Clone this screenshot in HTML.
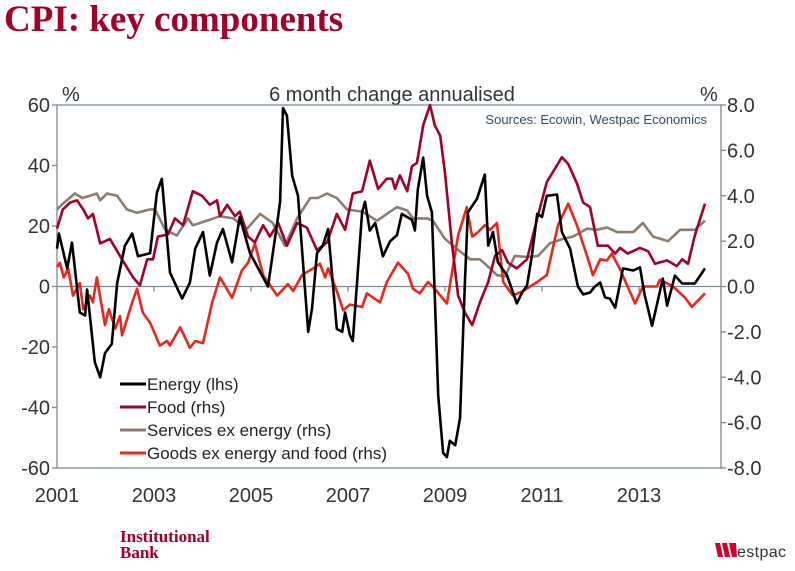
<!DOCTYPE html>
<html><head><meta charset="utf-8"><style>
html,body{margin:0;padding:0;background:#fff;width:795px;height:571px;overflow:hidden;font-family:"Liberation Sans",sans-serif}
svg{display:block}
</style></head><body>
<svg id="chart" width="795" height="571" viewBox="0 0 795 571">
<text x="4" y="31" font-family="Liberation Serif,serif" font-weight="bold" font-size="37" fill="#a0002a">CPI: key components</text>
<text x="62" y="101" font-size="20" fill="#333">%</text>
<text x="392" y="101" font-size="20" fill="#333" text-anchor="middle">6 month change annualised</text>
<text x="700" y="101" font-size="20" fill="#333">%</text>
<g id="axes"></g>
<g id="series"></g>
<text x="707" y="124" font-size="13" fill="#3a4a5a" text-anchor="end">Sources: Ecowin, Westpac Economics</text>
<g>
<line x1="120" y1="384" x2="146" y2="384" stroke="#000" stroke-width="3"/><text x="147" y="390" font-size="17" fill="#222">Energy (lhs)</text>
<line x1="120" y1="407" x2="146" y2="407" stroke="#a0002a" stroke-width="3"/><text x="147" y="413" font-size="17" fill="#222">Food (rhs)</text>
<line x1="120" y1="430" x2="146" y2="430" stroke="#8c7d70" stroke-width="3"/><text x="147" y="436" font-size="17" fill="#222">Services ex energy (rhs)</text>
<line x1="120" y1="453" x2="146" y2="453" stroke="#e8281e" stroke-width="3"/><text x="147" y="459" font-size="17" fill="#222">Goods ex energy and food (rhs)</text>
</g>
<text x="120" y="542" font-family="Liberation Serif,serif" font-weight="bold" font-size="17" fill="#a0002a">Institutional</text>
<text x="120" y="558" font-family="Liberation Serif,serif" font-weight="bold" font-size="17" fill="#a0002a">Bank</text>
<g>
<polygon points="715,543 720,543 723,557 718,557" fill="#d5002b"/>
<polygon points="722,543 727,543 730,557 725,557" fill="#d5002b"/>
<polygon points="729,543 736,543 737,557 732,557" fill="#d5002b"/>
<text x="737" y="557" font-size="16" fill="#333" textLength="49">estpac</text>
</g>
</svg>
<script>
const xTicks=[2001,2003,2005,2007,2009,2011,2013];
const lhsTicks=[60,40,20,0,-20,-40,-60];
const rhsTicks=[8,6,4,2,0,-2,-4,-6,-8];
const energyDates=[2001.0,2001.04,2001.21,2001.31,2001.47,2001.58,2001.62,2001.78,2001.89,2001.99,2002.13,2002.24,2002.40,2002.55,2002.67,2002.92,2003.06,2003.16,2003.33,2003.58,2003.74,2003.85,2004.01,2004.15,2004.30,2004.42,2004.61,2004.77,2004.98,2005.35,2005.54,2005.60,2005.66,2005.74,2005.85,2005.97,2006.18,2006.26,2006.36,2006.48,2006.59,2006.77,2006.88,2006.94,2007.04,2007.10,2007.29,2007.35,2007.45,2007.56,2007.72,2007.87,2008.01,2008.11,2008.32,2008.38,2008.44,2008.55,2008.63,2008.73,2008.86,2008.96,2009.04,2009.10,2009.21,2009.31,2009.41,2009.47,2009.66,2009.82,2009.89,2009.99,2010.09,2010.28,2010.48,2010.59,2010.69,2010.79,2010.90,2011.00,2011.10,2011.31,2011.41,2011.58,2011.74,2011.85,2011.99,2012.09,2012.20,2012.30,2012.40,2012.51,2012.67,2012.88,2013.02,2013.12,2013.27,2013.49,2013.58,2013.74,2013.89,2014.15,2014.36];
const energyValues=[12.5,17.5,6,14.5,-8.6,-9.6,-1,-25,-30,-22,-19,1,13.5,17.5,10,11,31,35.6,4.6,-4,1.3,12.5,18,3.6,14.5,19,8,23,11,0,21,28,59,56.5,36.6,30,-15,-7,11,13.5,19,-14,-15,-8.6,-16,-18,24.5,28,18.5,21,10,15,17,24,22,18.5,32,42.6,30,24.5,-36,-55,-56.4,-51,-52.5,-43.6,1.3,24.5,29,37,13.5,18,8,3.6,-5.6,-2,0.3,10,24,23,30,30.4,18,12.5,0,-2.6,-2,0,1.3,-3.6,-4,-7,6,5.3,6.3,-3,-13,2.6,-6.3,3.6,1,1,6];
const foodDates=[2001.0,2001.12,2001.27,2001.41,2001.54,2001.64,2001.74,2001.89,2002.09,2002.34,2002.57,2002.71,2002.86,2002.98,2003.08,2003.29,2003.43,2003.60,2003.80,2003.99,2004.15,2004.30,2004.36,2004.51,2004.67,2004.77,2004.94,2005.08,2005.25,2005.39,2005.56,2005.74,2005.95,2006.15,2006.36,2006.57,2006.77,2006.94,2007.10,2007.29,2007.45,2007.62,2007.80,2007.91,2007.97,2008.07,2008.22,2008.32,2008.42,2008.55,2008.69,2008.79,2008.90,2009.00,2009.14,2009.27,2009.41,2009.56,2009.72,2009.89,2010.03,2010.18,2010.30,2010.48,2010.69,2010.90,2011.10,2011.41,2011.54,2011.72,2011.85,2011.99,2012.15,2012.36,2012.51,2012.61,2012.77,2013.02,2013.19,2013.33,2013.58,2013.78,2013.89,2014.01,2014.15,2014.36];
const foodValues=[2.55,3.4,3.7,3.8,3.4,3.0,3.2,1.9,2.1,1.2,0.4,0.05,1.2,1.2,2.2,2.3,3.0,2.7,4.2,4.0,3.6,3.8,3.1,3.6,3.1,3.3,2.2,1.95,2.7,2.2,2.8,1.8,2.8,2.6,1.6,1.95,3.2,2.5,4.1,4.2,5.55,4.3,4.75,4.75,4.3,4.9,4.2,5.3,5.45,7.1,8.0,7.1,6.65,5.0,1.95,-0.4,-1.15,-1.7,-0.7,0.2,1.35,1.6,1.05,0.8,1.2,3.0,4.6,5.7,5.4,4.55,3.7,3.5,1.8,1.8,1.45,1.7,1.45,1.7,1.55,1.0,1.15,0.9,1.2,1.0,2.25,3.65];
const servicesDates=[2001.0,2001.12,2001.37,2001.52,2001.68,2001.82,2001.89,2002.03,2002.24,2002.44,2002.65,2002.92,2003.02,2003.23,2003.47,2003.70,2003.80,2004.09,2004.36,2004.63,2004.92,2005.19,2005.45,2005.70,2005.95,2006.22,2006.38,2006.57,2006.77,2006.98,2007.29,2007.60,2007.87,2008.01,2008.22,2008.34,2008.63,2008.75,2009.00,2009.25,2009.52,2009.72,2009.93,2010.07,2010.24,2010.44,2010.69,2010.92,2011.16,2011.43,2011.64,2011.93,2012.13,2012.34,2012.55,2012.88,2013.08,2013.29,2013.60,2013.85,2014.15,2014.36];
const servicesValues=[3.4,3.65,4.1,3.9,4.0,4.1,3.8,4.1,4.0,3.4,3.25,3.4,3.4,2.5,2.25,3.0,2.7,2.9,3.1,3.0,2.55,3.2,2.8,1.8,3.0,3.9,3.9,4.1,3.9,3.4,3.3,2.9,3.3,3.5,3.35,3.0,3.0,2.9,2.1,1.65,1.2,1.2,0.8,0.5,0.45,1.35,1.3,1.35,1.9,2.1,2.2,2.55,2.5,2.6,2.4,2.4,2.8,2.2,2.0,2.5,2.5,2.9];
const goodsDates=[2001.0,2001.06,2001.14,2001.23,2001.33,2001.47,2001.54,2001.68,2001.74,2001.82,2001.99,2002.07,2002.20,2002.30,2002.34,2002.55,2002.65,2002.77,2002.92,2003.12,2003.27,2003.33,2003.54,2003.74,2003.85,2004.01,2004.20,2004.36,2004.61,2004.81,2004.94,2005.08,2005.25,2005.54,2005.76,2005.87,2006.05,2006.28,2006.42,2006.53,2006.59,2006.77,2006.90,2007.04,2007.29,2007.39,2007.66,2007.80,2008.03,2008.24,2008.34,2008.48,2008.65,2008.79,2009.04,2009.27,2009.45,2009.56,2009.68,2009.82,2009.93,2010.07,2010.20,2010.40,2010.61,2010.90,2011.10,2011.33,2011.54,2011.72,2011.95,2012.05,2012.20,2012.34,2012.44,2012.61,2012.92,2013.08,2013.37,2013.43,2013.70,2013.95,2014.09,2014.36];
const goodsValues=[0.85,1.05,0.4,0.8,-0.4,0.15,-1.0,-0.4,-0.7,0.4,-1.7,-1.0,-1.85,-1.3,-2.15,-0.7,-0.1,-1.15,-1.6,-2.6,-2.4,-2.6,-1.8,-2.7,-2.4,-2.5,-0.7,0.4,-0.5,0.7,1.05,1.9,0.5,-0.4,0.1,-0.2,0.5,0.8,1.0,0.4,0.8,-0.2,-1.05,-0.8,-0.9,-0.3,-0.7,0.2,1.05,0.55,-0.1,-0.3,0.2,-0.1,-0.75,2.25,3.5,2.2,2.4,2.7,2.5,2.8,0.2,-0.4,-0.2,0.2,0.5,2.7,3.65,2.7,1.2,0.5,1.2,1.15,1.45,0.75,-0.75,0,0,0.3,0,-0.5,-0.9,-0.3];

const NS='http://www.w3.org/2000/svg';
const L=57,R=721,T=105,B=468;
const xS=d=>L+(d-2001)*48.5;
const yL=v=>T+(60-v)/120*(B-T);
const yR=v=>T+(8-v)/16*(B-T);
function mk(tag,attrs,parent){const e=document.createElementNS(NS,tag);for(const k in attrs)e.setAttribute(k,attrs[k]);parent.appendChild(e);return e;}
const ax=document.getElementById('axes');
const grey='#7f8a96';
let box=mk('rect',{x:L,y:T,width:R-L,height:B-T,fill:'none',stroke:grey,'stroke-width':1.3},ax);


let zl=mk('line',{x1:L,x2:R,y1:yL(0),y2:yL(0),stroke:grey,'stroke-width':1.3},ax);


lhsTicks.forEach(v=>{
  mk('line',{x1:L-5,x2:L,y1:yL(v),y2:yL(v),stroke:grey,'stroke-width':1.3},ax);
  const t=mk('text',{x:50,y:yL(v)+7,'font-size':20,fill:'#333','text-anchor':'end'},ax);
  t.textContent=v;
  
  
});
rhsTicks.forEach(v=>{
  mk('line',{x1:R,x2:R+5,y1:yR(v),y2:yR(v),stroke:grey,'stroke-width':1.3},ax);
  const t=mk('text',{x:727,y:yR(v)+7,'font-size':20,fill:'#333'},ax);
  t.textContent=v.toFixed(1);
  
  
});
xTicks.forEach(d=>{
  mk('line',{x1:xS(d),x2:xS(d),y1:yL(0),y2:yL(0)+5,stroke:grey,'stroke-width':1.3},ax);
  const t=mk('text',{x:xS(d),y:502,'font-size':20,fill:'#333','text-anchor':'middle'},ax);
  t.textContent=d;
  
  
});
const sg=document.getElementById('series');
function line(dates,vals,ys,color,name){
  const p=dates.map((d,i)=>xS(d).toFixed(1)+','+ys(vals[i]).toFixed(1)).join(' ');
  const e=mk('polyline',{points:p,fill:'none',stroke:color,'stroke-width':2.6,'stroke-linejoin':'round'},sg);
  
  
}
line(servicesDates,servicesValues,yR,'#8c7d70','services-line');
line(goodsDates,goodsValues,yR,'#e8281e','goods-line');
line(foodDates,foodValues,yR,'#a0002a','food-line');
line(energyDates,energyValues,yL,'#000','energy-line');
</script>
</body></html>
